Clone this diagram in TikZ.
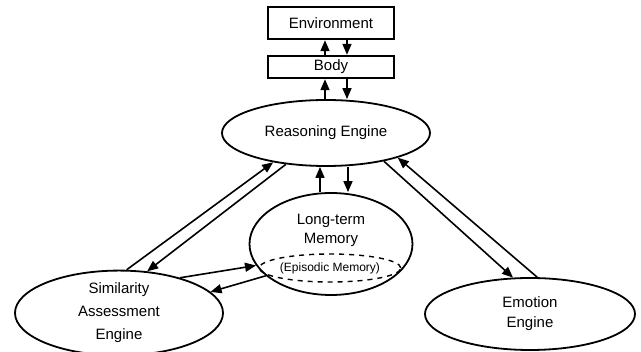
\documentclass[tikz,border=0pt]{standalone}
\usepackage{fontspec}
\setmainfont{Liberation Sans}
\usetikzlibrary{shapes.geometric,arrows.meta}
\begin{document}
\begin{tikzpicture}[x=1pt,y=-1pt,
  boxn/.style={draw,line width=2.4pt,minimum width=126pt,inner sep=0pt,font=\fontsize{15}{16}\selectfont},
  elln/.style={draw,ellipse,line width=1.8pt,inner sep=0pt,align=center,font=\fontsize{15}{19}\selectfont},
  arr/.style={line width=1.6pt,-{Triangle[length=11pt,width=9pt]}}]
\useasboundingbox (0,0) rectangle (641,352);
\node[boxn,minimum height=32pt] (env) at (331,23) {Environment};
\node[boxn,minimum height=22pt] (body) at (331,67) {Body};
\node[elln,minimum width=208pt,minimum height=66pt] (re) at (326,133) {Reasoning Engine};
\node[elln,minimum width=163pt,minimum height=102pt] (ltm) at (331,244) {};
\node[font=\fontsize{15}{19}\selectfont,align=center] (ltmt) at (331,230) {Long-term\\Memory};
\node[draw,ellipse,dashed,line width=1.4pt,dash pattern=on 5pt off 5pt,minimum width=104pt,minimum height=28pt,inner sep=0pt,font=\fontsize{12}{14}\selectfont] (epi) at (330,268) {(Episodic Memory)};
\node[elln,minimum width=208pt,minimum height=72pt,font=\fontsize{15}{23}\selectfont] (sim) at (119,313) {Similarity\\Assessment\\Engine};
\node[elln,minimum width=210pt,minimum height=72pt,font=\fontsize{15}{20}\selectfont] (emo) at (530,314) {Emotion\\Engine};
% env-body
\draw[arr] ([xshift=-6pt]body.north) -- ([xshift=-6pt]env.south);
\draw[arr] ([xshift=16pt]env.south) -- ([xshift=16pt]body.north);
% body-re
\draw[arr] ([xshift=-6pt]body.south |- re.north) -- ([xshift=-6pt]body.south);
\draw[arr] ([xshift=16pt]body.south) -- ([xshift=16pt]body.south |- re.north);
% re-ltm
\draw[arr] ([xshift=-11pt]ltm.north) -- ([xshift=-11pt]ltm.north |- re.south);
\draw[arr] ([xshift=17pt]ltm.north |- re.south) -- ([xshift=17pt]ltm.north);
% re-sim
\draw[arr] (sim.80) -- (re.209);
\draw[arr] (re.218) -- (sim.56);
% sim-ltm
\draw[arr] (sim.30) -- (ltm.196);
\draw[arr] (ltm.206) -- (sim.13);
% re-emo
\draw[arr] (re.334) -- (emo.115);
\draw[arr] (emo.79) -- (re.341);
\end{tikzpicture}
\end{document}
